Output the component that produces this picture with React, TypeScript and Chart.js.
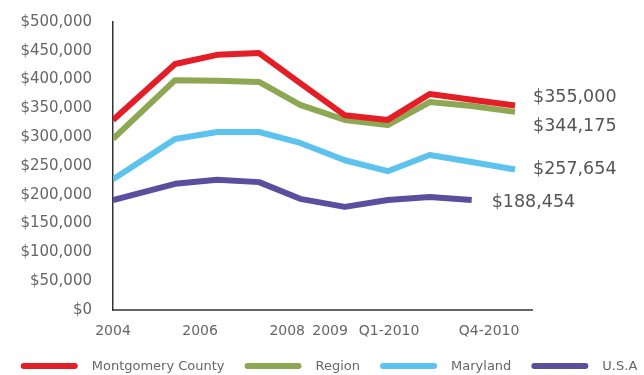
import React, { useEffect, useRef } from "react";
import { Chart, registerables } from "chart.js";

Chart.register(...registerables);

// Periods (x positions in period units)
const periodX = [0, 1.39, 2.33, 3.27, 4.19, 5.19, 6.15, 7.09, 8.03, 9.0];

// Tick labels and where they sit on the period axis
const tickLabels = ["2004", "2006", "2008", "2009", "Q1-2010", "Q4-2010"];
const tickValues = [0, 1.95, 3.9, 4.86, 6.18, 8.42];

const seriesNames = ["Montgomery County", "Region", "Maryland", "U.S.A"];
const montgomery = [330000, 427000, 443000, 446000, 394000, 338000, 330000, 375000, 365000, 355000];
const region = [297000, 399000, 398000, 396000, 356000, 330000, 321000, 361000, 354000, 344000];
const maryland = [227000, 297000, 309000, 309000, 290000, 260000, 241000, 269000, 257000, 244000];
const usa = [191000, 219000, 226000, 222000, 193000, 179000, 191000, 196000, 191000, null];
const endLabels = ["$355,000", "$344,175", "$257,654", "$188,454"];

const colors = ["#e31e26", "#8da752", "#5cc3ee", "#5a4e9e"];
const endLabelOffsets = [
  [18, -8],
  [18, 15],
  [18, 0],
  [20, 2],
];

const FONT = "'DejaVu Sans', sans-serif";

export default function App() {
  const ref = useRef<HTMLCanvasElement | null>(null);

  useEffect(() => {
    if (!ref.current) return;
    const allSeries = [montgomery, region, maryland, usa];
    const datasets = allSeries.map((vals, i) => ({
      label: seriesNames[i],
      data: vals.map((v, j) => ({ x: periodX[j], y: v })),
      borderColor: colors[i],
      backgroundColor: colors[i],
      borderWidth: 6,
      pointRadius: 0,
      tension: 0,
      borderJoinStyle: "round" as const,
      borderCapStyle: "butt" as const,
      spanGaps: false,
    }));

    const overlay = {
      id: "overlay",
      afterDatasetsDraw(chart: any) {
        const ctx = chart.ctx;
        ctx.save();
        // end labels
        ctx.font = `17.5px ${FONT}`;
        ctx.fillStyle = "#555";
        ctx.textBaseline = "middle";
        ctx.textAlign = "left";
        chart.data.datasets.forEach((ds: any, i: number) => {
          const meta = chart.getDatasetMeta(i);
          let last: any = null;
          ds.data.forEach((d: any, j: number) => {
            if (d.y !== null && d.y !== undefined) last = meta.data[j];
          });
          if (last) {
            ctx.fillText(endLabels[i], last.x + endLabelOffsets[i][0], last.y + endLabelOffsets[i][1]);
          }
        });
        // legend
        ctx.font = `13px ${FONT}`;
        const sample = 57;
        const gapText = 14;
        const gapItem = 20;
        const widths = seriesNames.map((n) => ctx.measureText(n).width);
        const total = widths.reduce((a, b) => a + b, 0) + seriesNames.length * (sample + gapText) + (seriesNames.length - 1) * gapItem;
        let x = 329 - total / 2;
        const y = 366;
        seriesNames.forEach((n, i) => {
          ctx.strokeStyle = colors[i];
          ctx.lineWidth = 6;
          ctx.lineCap = "round";
          ctx.beginPath();
          ctx.moveTo(x + 3, y);
          ctx.lineTo(x + sample - 3, y);
          ctx.stroke();
          ctx.fillStyle = "#666";
          ctx.fillText(n, x + sample + gapText, y + 1);
          x += sample + gapText + widths[i] + gapItem;
        });
        ctx.restore();
      },
    };

    const chart = new Chart(ref.current, {
      type: "line",
      data: { datasets },
      options: {
        animation: false,
        responsive: true,
        maintainAspectRatio: false,
        layout: { padding: { left: 0, right: 112, top: 22, bottom: 0 } },
        plugins: { legend: { display: false }, tooltip: { enabled: false } },
        scales: {
          x: {
            type: "linear",
            min: 0,
            max: 9.38,
            grid: { display: false, drawTicks: false },
            border: { display: true, color: "#666", width: 2 },
            ticks: {
              padding: 13,
              color: "#666",
              font: { family: FONT, size: 14 },
              autoSkip: false,
              maxRotation: 0,
              callback: (v: any) => {
                const idx = tickValues.indexOf(Number(v));
                return idx >= 0 ? tickLabels[idx] : "";
              },
            },
            afterBuildTicks: (scale: any) => {
              scale.ticks = tickValues.map((v) => ({ value: v }));
            },
            afterFit: (scale: any) => {
              scale.height = 65;
              scale.paddingLeft = 0;
              scale.paddingRight = 0;
            },
          },
          y: {
            min: 0,
            max: 500000,
            grid: { display: false, drawTicks: false },
            border: { display: true, color: "#333", width: 1.5 },
            ticks: {
              stepSize: 50000,
              padding: 21,
              color: "#666",
              font: { family: FONT, size: 15 },
              callback: (v: any) => "$" + Number(v).toLocaleString("en-US"),
            },
            afterFit: (scale: any) => {
              scale.width = 113;
              scale.paddingTop = 0;
              scale.paddingBottom = 0;
            },
          },
        },
      },
      plugins: [overlay],
    });
    return () => chart.destroy();
  }, []);

  return (
    <div style={{ position: "absolute", left: 0, top: 0, width: 644, height: 375, background: "#fff" }}>
      <canvas ref={ref} />
    </div>
  );
}
